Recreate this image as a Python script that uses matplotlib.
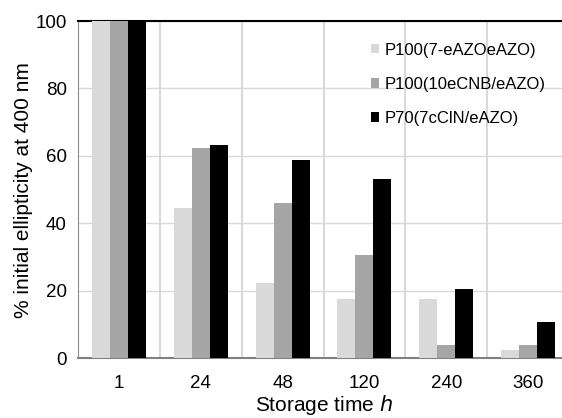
import numpy as np
import matplotlib
matplotlib.use('Agg')
import matplotlib.pyplot as plt

plt.rcParams['font.family'] = ['Liberation Sans', 'DejaVu Sans']

# Storage times (categories) and % initial ellipticity per sample
times = ['1', '24', '48', '120', '240', '360']
series_names = ['P100(7-eAZOeAZO)', 'P100(10eCNB/eAZO)', 'P70(7cClN/eAZO)']
p100_eazo = [100, 44.5, 22.3, 17.5, 17.5, 2.4]
p100_ecnb = [100, 62.3, 46.0, 30.5, 3.9, 3.9]
p70_ccin = [100, 63.2, 58.8, 53.0, 20.4, 10.7]
colors = ['#d9d9d9', '#a5a5a5', '#000000']

fig = plt.figure(figsize=(5.62, 4.18), dpi=100)
ax = fig.add_axes([0.1388, 0.1435, 0.8737, 0.806])

x = np.arange(len(times))
w = 0.22
for i, (vals, name) in enumerate(zip([p100_eazo, p100_ecnb, p70_ccin], series_names)):
    ax.bar(x + (i - 1) * w, vals, width=w, color=colors[i], label=name, zorder=3)

ax.set_xlim(-0.5, len(times) - 0.5)
ax.set_ylim(0, 100)
ax.set_yticks(np.arange(0, 101, 20))
ax.set_xticks(x)
ax.set_xticklabels(times)
ax.set_xticks(np.arange(0.5, len(times) - 0.5, 1), minor=True)
ax.tick_params(axis='both', which='both', length=0, labelsize=13.5)
ax.tick_params(axis='x', pad=12)
ax.tick_params(axis='y', pad=8)
ax.grid(True, axis='y', which='major', color='#d9d9d9', linewidth=1, zorder=0)
ax.grid(True, axis='x', which='minor', color='#d9d9d9', linewidth=1.5, zorder=0)

ax.spines['left'].set_color('#8c8c8c')
ax.spines['bottom'].set_color('#808080')
ax.spines['bottom'].set_linewidth(1.5)
ax.spines['top'].set_color('black')
ax.spines['top'].set_linewidth(1.5)
ax.spines['right'].set_visible(False)

ax.set_xlabel('Storage time $\\it{h}$', fontsize=15, labelpad=1)
ax.set_ylabel('% initial ellipticity at 400 nm', fontsize=15, labelpad=2)

ax.legend(loc='upper left', bbox_to_anchor=(0.661, 0.898), bbox_transform=fig.transFigure,
          frameon=False, fontsize=12, handlelength=0.48, handleheight=0.48,
          handletextpad=0.3, labelspacing=1.15, borderpad=0, borderaxespad=0)

plt.savefig('out.png', dpi=100)
